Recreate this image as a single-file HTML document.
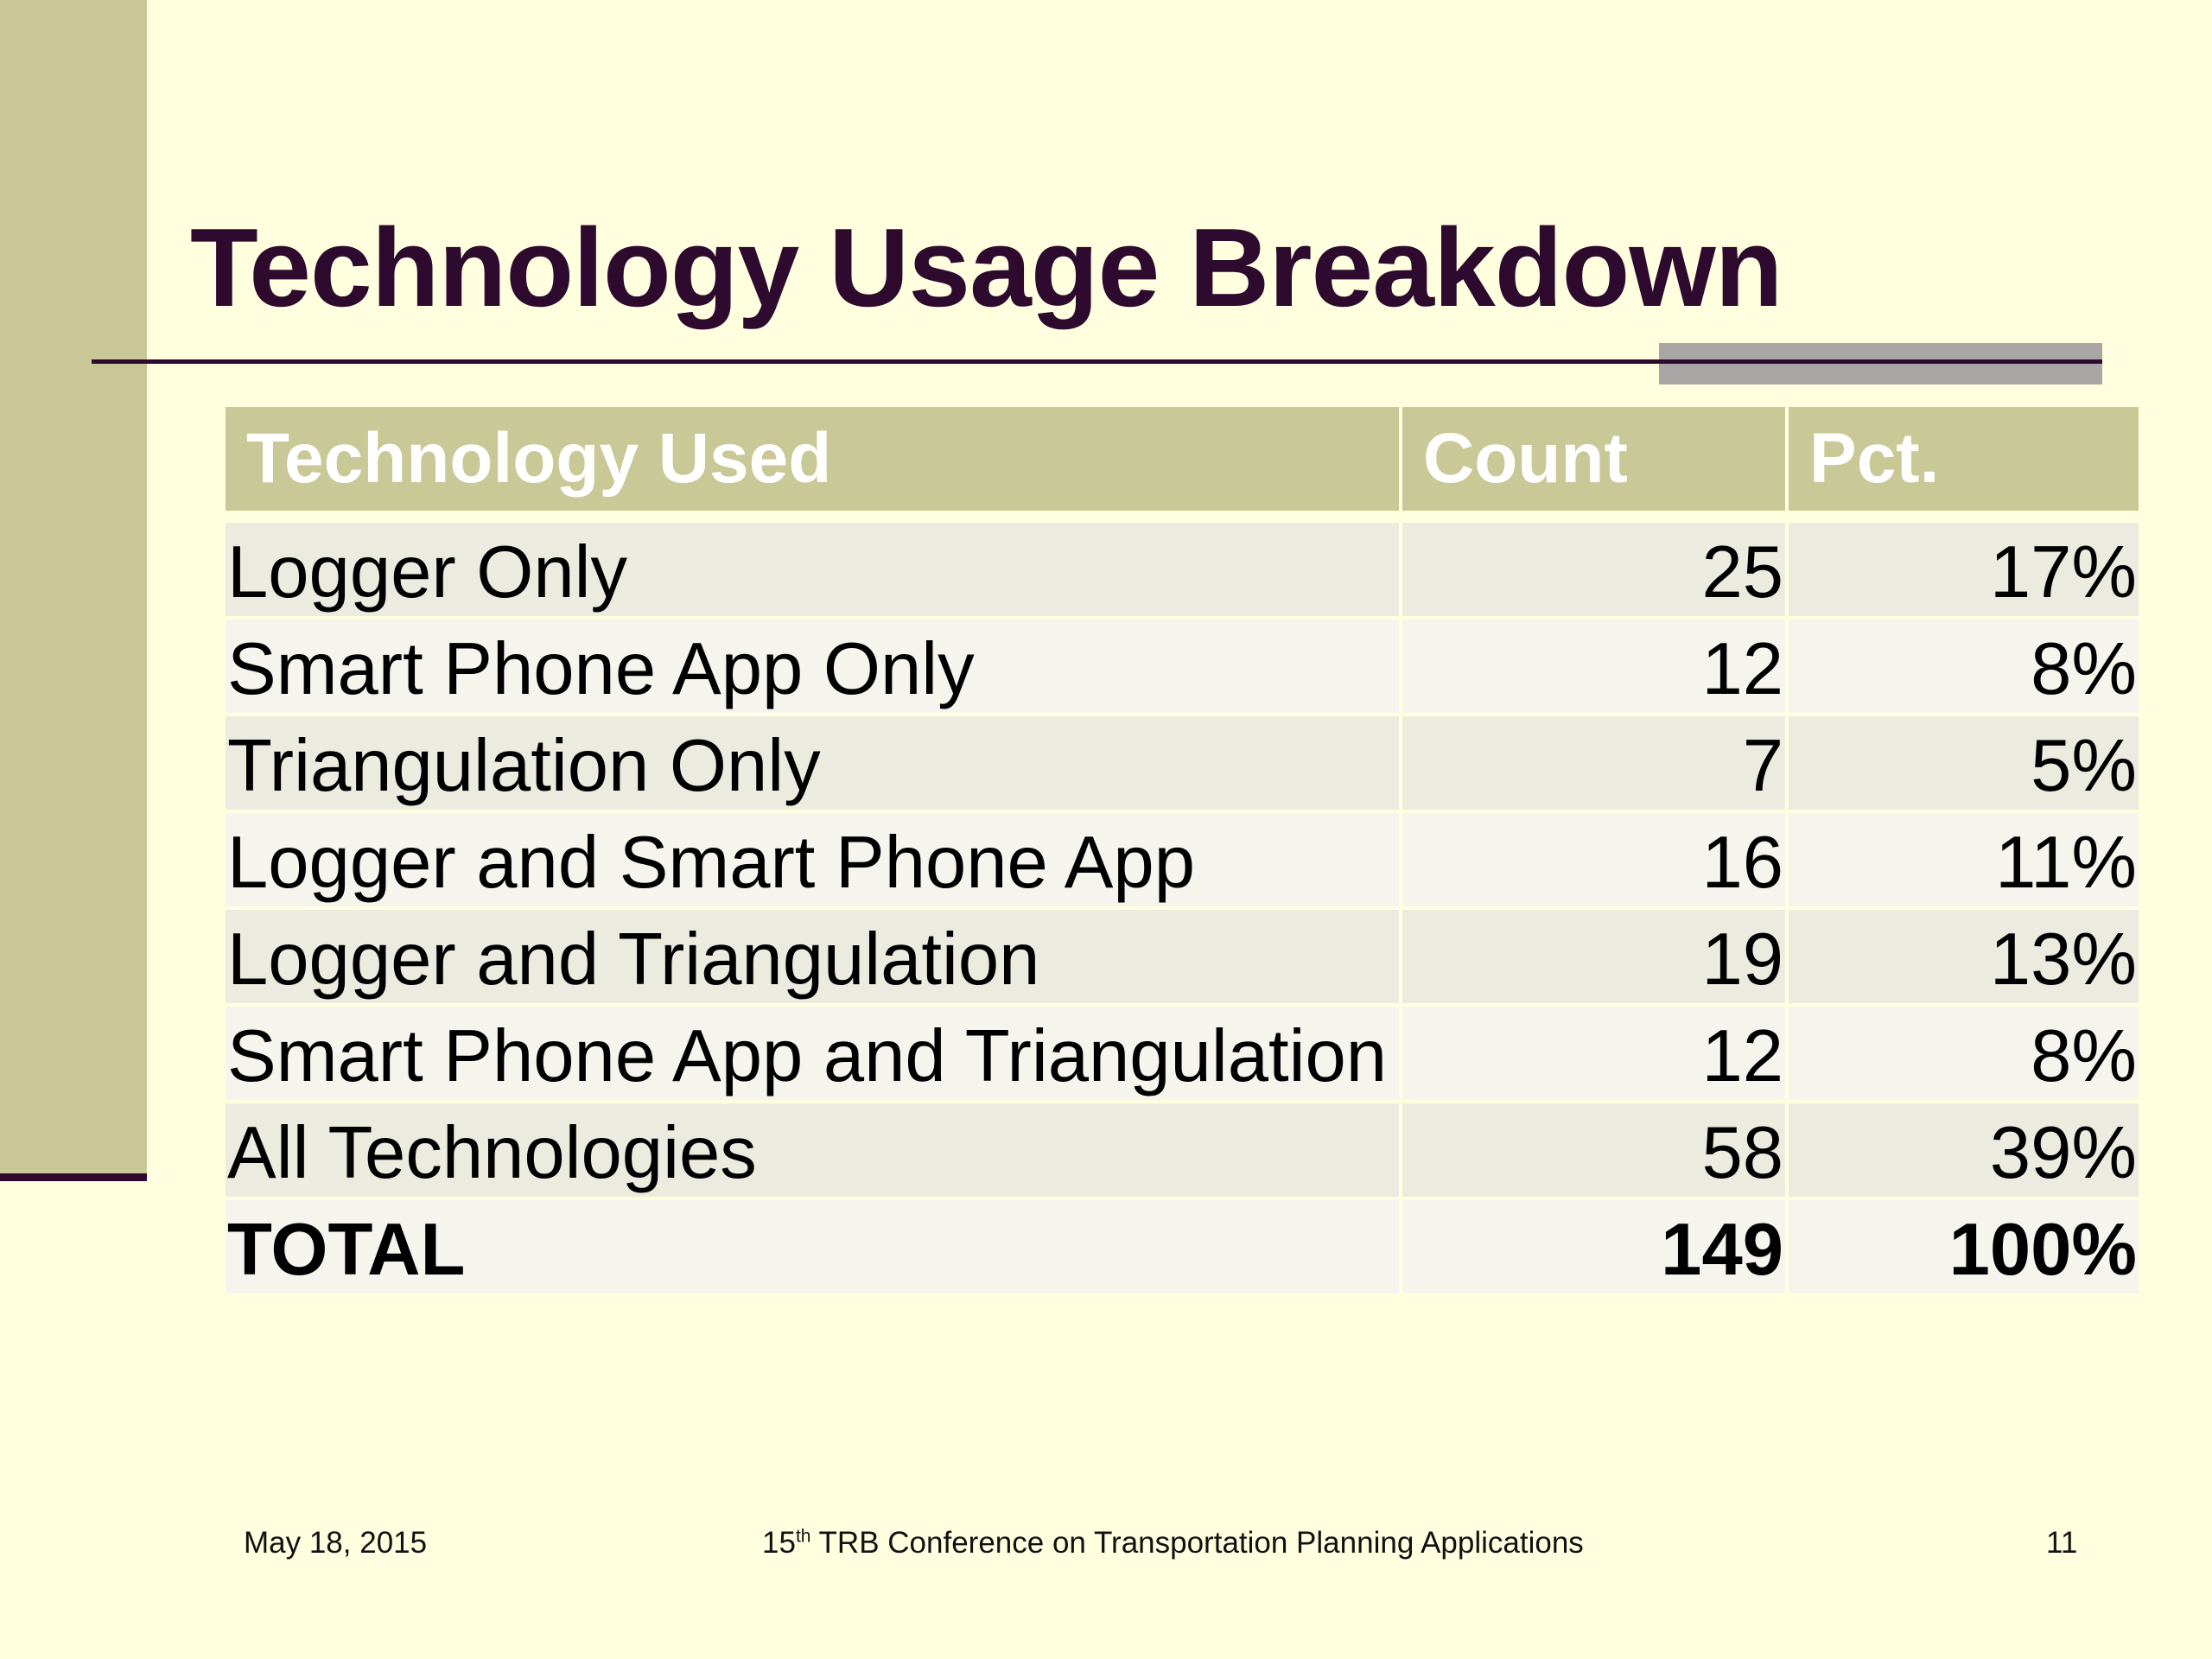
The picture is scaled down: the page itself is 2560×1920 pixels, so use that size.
<!DOCTYPE html>
<html><head><meta charset="utf-8"><style>
body{margin:0;width:2560px;height:1920px;background:#ffffe0;position:relative;overflow:hidden;font-family:"Liberation Sans",Arial,sans-serif}
.bar{position:absolute;left:0;top:0;width:170px;height:1360px;background:#c9c697}
.barl{position:absolute;left:0;top:1358px;width:170px;height:9px;background:#2d0a2e}
h1{position:absolute;left:220px;top:236px;margin:0;font-size:129px;font-weight:bold;color:#2d0a2e;letter-spacing:-1px;white-space:nowrap}
.hl{position:absolute;left:106px;top:416px;width:2327px;height:5px;background:#2d0a2e}
.gr{position:absolute;left:1920px;top:397px;width:513px;height:48px;background:#a9a6a6}
table{position:absolute;left:257px;top:467px;border-collapse:separate;border-spacing:4px;table-layout:fixed;width:2222px}
td{height:108px;font-size:85px;color:#000;padding:8px 2px 0 2px;line-height:100px;white-space:nowrap;overflow:hidden;box-sizing:border-box}
tr.h td{background:#c9c897;color:#fff;font-weight:bold;height:120px;padding:0 0 0 24px;font-size:82px;line-height:120px}
tr.s td{height:6px;padding:0;line-height:0;font-size:0}
tr.a td{background:#ebebdf}
tr.b td{background:#f5f5ee}
tr.t td{font-weight:bold}
td.r{text-align:right}
.f{position:absolute;top:1766px;font-size:35px;color:#111;white-space:nowrap}
</style></head><body>
<div class="bar"></div><div class="barl"></div>
<h1>Technology Usage Breakdown</h1>
<div class="gr"></div><div class="hl"></div>
<table>
<colgroup><col style="width:1358px"><col style="width:443px"><col style="width:405px"></colgroup>
<tr class="h"><td>Technology Used</td><td>Count</td><td>Pct.</td></tr>
<tr class="s"><td></td><td></td><td></td></tr>
<tr class="a"><td>Logger Only</td><td class="r">25</td><td class="r">17%</td></tr>
<tr class="b"><td>Smart Phone App Only</td><td class="r">12</td><td class="r">8%</td></tr>
<tr class="a"><td>Triangulation Only</td><td class="r">7</td><td class="r">5%</td></tr>
<tr class="b"><td>Logger and Smart Phone App</td><td class="r">16</td><td class="r">11%</td></tr>
<tr class="a"><td>Logger and Triangulation</td><td class="r">19</td><td class="r">13%</td></tr>
<tr class="b"><td>Smart Phone App and Triangulation</td><td class="r">12</td><td class="r">8%</td></tr>
<tr class="a"><td>All Technologies</td><td class="r">58</td><td class="r">39%</td></tr>
<tr class="b t"><td>TOTAL</td><td class="r">149</td><td class="r">100%</td></tr>
</table>
<div class="f" style="left:282px">May 18, 2015</div>
<div class="f" style="left:882px">15<sup style="font-size:21px">th</sup> TRB Conference on Transportation Planning Applications</div>
<div class="f" style="left:2368px">11</div>
</body></html>
